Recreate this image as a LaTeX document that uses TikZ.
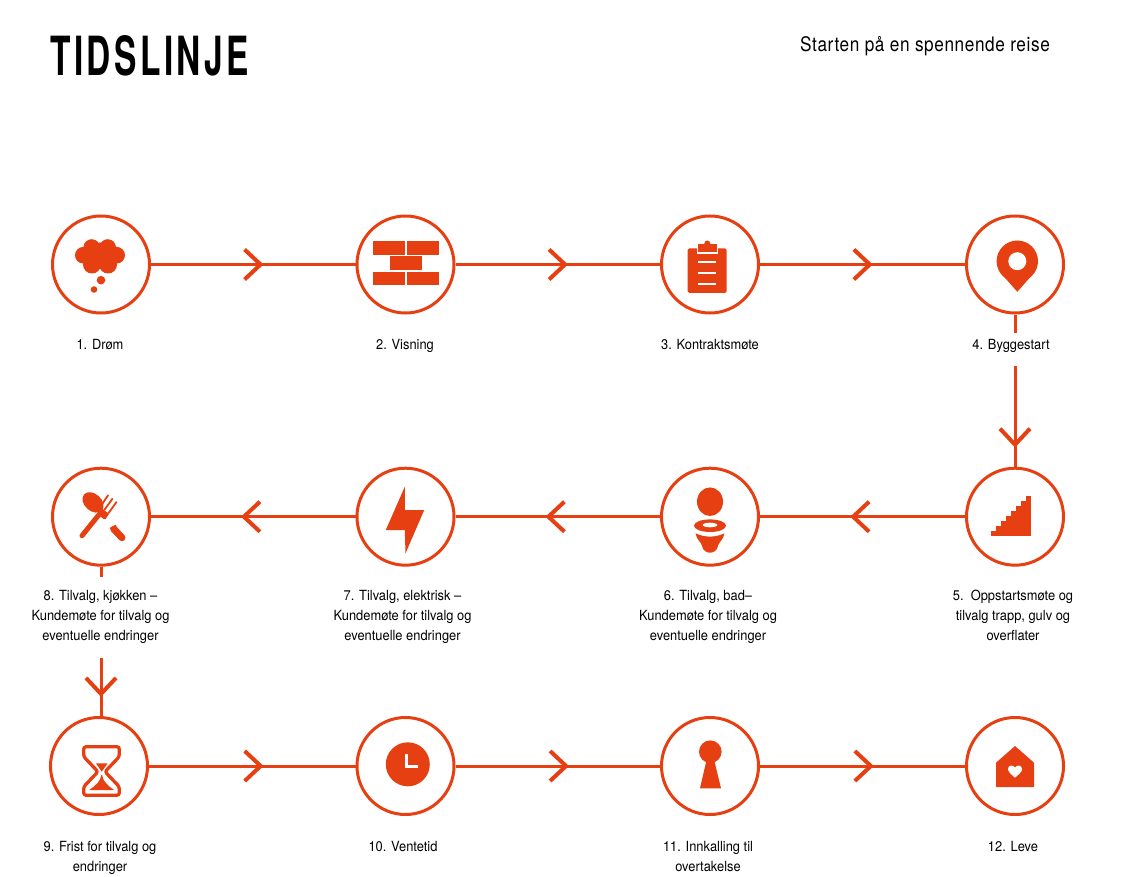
\documentclass[tikz,border=0pt]{standalone}
\usepackage{fontspec}
\usetikzlibrary{arrows.meta,decorations.markings}
\setmainfont{TeX Gyre Heros}
\newfontfamily\tekstfont[FakeStretch=.92]{TeX Gyre Heros}
\newfontfamily\titlefont[FakeStretch=.62,LetterSpace=6.4]{TeX Gyre Heros}
\newfontfamily\undertitlefont[FakeStretch=.86,LetterSpace=3]{TeX Gyre Heros}
\definecolor{oransje}{HTML}{E63F11}
\tikzset{
	station/.style={circle, draw=oransje, line width=3pt, minimum size=97pt, inner sep=0pt},
	linje/.style={draw=oransje, line width=3pt},
	flyt/.style={linje, decoration={markings, mark=at position #1 with {\arrow[oransje]{Straight Barb[length=16pt,width=30pt,line width=4pt]}}}, postaction={decorate}},
	tekst/.style={font=\tekstfont\fontsize{14}{20}\selectfont, align=center, anchor=north, inner xsep=0pt, inner ysep=6pt},
}
\begin{document}
\begin{tikzpicture}[x=1pt, y=-1pt]
	\useasboundingbox (0,0) rectangle (1140,877);

	\node [anchor=base west, inner sep=0pt, font=\titlefont\bfseries\fontsize{54}{54}\selectfont] (tittel) at (50,76) {TIDSLINJE};
	\node [anchor=base west, inner sep=0pt, font=\undertitlefont\fontsize{20}{20}\selectfont] (undertittel) at (800,52) {Starten på en spennende reise};

	% circles
	\node [station] (drom) at (101,264.5) {};
	\node [station] (visning) at (405.5,264.5) {};
	\node [station] (kontrakt) at (710,264.5) {};
	\node [station] (byggestart) at (1015,264.5) {};
	\node [station] (oppstart) at (1015,516.7) {};
	\node [station] (bad) at (710,516.7) {};
	\node [station] (elektrisk) at (405.5,516.7) {};
	\node [station] (kjokken) at (101,516.7) {};
	\node [station] (frist) at (99,766) {};
	\node [station] (ventetid) at (405.5,766) {};
	\node [station] (innkalling) at (710,766) {};
	\node [station] (leve) at (1015,766) {};

	% labels
	\node [tekst] (tekst1) at (100,333) {1. Drøm};
	\node [tekst] (tekst2) at (405,333) {2. Visning};
	\node [tekst] (tekst3) at (710,333) {3. Kontraktsmøte};
	\node [tekst] (tekst4) at (1011,333) {4. Byggestart};
	\node [tekst] (tekst5) at (1013,584) {5.\ \ Oppstartsmøte og\\tilvalg trapp, gulv og\\overflater};
	\node [tekst] (tekst6) at (708,584) {6. Tilvalg, bad–\\Kundemøte for tilvalg og\\eventuelle endringer};
	\node [tekst] (tekst7) at (402.5,584) {7. Tilvalg, elektrisk –\\Kundemøte for tilvalg og\\eventuelle endringer};
	\node [tekst] (tekst8) at (100.5,584) {8. Tilvalg, kjøkken –\\Kundemøte for tilvalg og\\eventuelle endringer};
	\node [tekst] (tekst9) at (100,835) {9. Frist for tilvalg og\\endringer};
	\node [tekst] (tekst10) at (403,835) {10. Ventetid};
	\node [tekst] (tekst11) at (708,835) {11. Innkalling til\\overtakelse};
	\node [tekst] (tekst12) at (1013,835) {12. Leve};

	% connectors
	\draw [flyt=.55] (drom) -- (visning);
	\draw [flyt=.55] (visning) -- (kontrakt);
	\draw [flyt=.55] (kontrakt) -- (byggestart);
	\draw [linje] (byggestart) -- (byggestart |- tekst4.north);
	\draw [flyt=.81] (byggestart |- 0,366) -- (oppstart);
	\draw [flyt=.56] (oppstart) -- (bad);
	\draw [flyt=.56] (bad) -- (elektrisk);
	\draw [flyt=.56] (elektrisk) -- (kjokken);
	\draw [linje] (kjokken) -- (kjokken |- 0,577);
	\draw [flyt=.67] (kjokken |- 0,658) -- (kjokken |- frist.north);
	\draw [flyt=.555] (frist) -- (ventetid);
	\draw [flyt=.555] (ventetid) -- (innkalling);
	\draw [flyt=.555] (innkalling) -- (leve);

	% icons
	\begin{scope}[shift={(drom.center)}, oransje]
		\fill (-9.3,-17) circle[radius=8.3] (6.7,-17) circle[radius=8.3] (-17.7,-9.3) circle[radius=8.3] (15.7,-9.3) circle[radius=8.3];
		\fill (-9,0) circle[radius=9] (7,0) circle[radius=9] (-1,-9) circle[radius=13];
		\fill (0,15.7) circle[radius=4.3] (-7,25) circle[radius=3.3];
	\end{scope}
	\begin{scope}[shift={(visning.center)}, oransje]
		\fill (-33,-23.3) rectangle (-.7,-9.3);
		\fill (1.3,-23.3) rectangle (33.3,-9.3);
		\fill (-16,-8.3) rectangle (16,5.3);
		\fill (-33,7.3) rectangle (-.7,21);
		\fill (1.3,7.3) rectangle (33.3,21);
	\end{scope}
	\begin{scope}[shift={(kontrakt.center)}, oransje]
		\fill [rounded corners=1.5pt] (-22.3,-16) rectangle (16.7,28.3);
		\fill [white] (-13,-18) rectangle (8,-10.5);
		\fill (-2.7,-21) circle[radius=3];
		\fill (-11.7,-20) rectangle (6.7,-12.7);
		\foreach \y in {-2.7,8.3,19.3}
			\draw [white, line width=1.7pt] (-11.7,\y) -- (5.7,\y);
	\end{scope}
	\begin{scope}[shift={(byggestart.center)}, oransje]
		\fill (2.3,-3.3) circle[radius=20.7];
		\fill (2.3,27.3) .. controls (-6,18) and (-13,10) .. (-15.7,6) -- (20.3,6) .. controls (17.6,10) and (10.6,18) .. cycle;
		\fill [white] (2.3,-3.3) circle[radius=9];
	\end{scope}
	\begin{scope}[shift={(oppstart.center)}, oransje]
		\foreach \i in {1,...,8}
			\fill (-24.3+\i*5.04-5.04,19.3) rectangle ++(5.3,-\i*5.04);
	\end{scope}
	\begin{scope}[shift={(bad.center)}, oransje]
		\fill (0,-15) ellipse[x radius=13, y radius=14.3];
		\fill (0,9) ellipse[x radius=16, y radius=6.3];
		\fill [white] (0,8.3) ellipse[x radius=7.3, y radius=2.3];
		\fill (-14.3,16.7) .. controls (-5,21) and (5,21) .. (14.3,16.7) .. controls (13,24) and (9,25) .. (8,29) .. controls (7.5,34) and (3,36) .. (0,36) .. controls (-3,36) and (-7.5,34) .. (-8,29) .. controls (-9,25) and (-13,24) .. cycle;
	\end{scope}
	\begin{scope}[shift={(elektrisk.center)}, oransje]
		\fill (-.7,-30) -- (-19.7,13.3) -- (-.7,13.3) -- (0,36.7) -- (18.7,-6.7) -- (-.7,-6.7) -- cycle;
	\end{scope}
	\begin{scope}[shift={(kjokken.center)}, oransje]
		\fill [shift={(-8,-14.3)}, rotate=-42] (0,0) ellipse[x radius=12, y radius=8.5];
		\draw [line width=5pt, line cap=round] (-19,19) -- (-1,-3.3);
		\fill (-1.7,-10.5) -- (8,-2.8) -- (4.5,2.5) -- (2.2,2) -- (-2.5,-2) -- cycle;
		\draw [line width=1.8pt] (-.7,-10) -- (7.3,-21.7) (3.3,-6.7) -- (11.7,-18.3) (7.3,-3.3) -- (15.7,-15);
		\draw [line width=7pt, line cap=round] (21,21) -- (13.5,13);
		\fill (8.7,11.2) -- (14.5,8) -- (17,12) -- (11,16) -- cycle;
	\end{scope}
	\begin{scope}[shift={(frist.center)}, oransje]
		\draw [line width=3.3pt, rounded corners=2.5pt] (-15.3,-19.3) -- (20.3,-19.3) -- (20.3,-9.3) -- (6,5.7) -- (20.3,20.7) -- (20.3,29.3) -- (-15.3,29.3) -- (-15.3,20.7) -- (-1,5.7) -- (-15.3,-9.3) -- cycle;
		\fill (-3,-2.7) -- (8.7,-2.7) -- (2.7,5.7) -- cycle;
		\fill (-9.7,24) .. controls (-4,20) and (2,15) .. (2.3,9) -- (3.1,9) .. controls (3.4,15) and (9.4,20) .. (15,24) -- cycle;
	\end{scope}
	\begin{scope}[shift={(ventetid.center)}, oransje]
		\fill (2.3,-1.7) circle[radius=22];
		\draw [white, line width=2.7pt] (1,-11.7) -- (1,.7) -- (12.7,.7);
	\end{scope}
	\begin{scope}[shift={(innkalling.center)}, oransje]
		\fill (.3,-14.3) circle[radius=11.3];
		\fill (-3.3,-6.7) -- (4,-6.7) -- (11,22.3) -- (-10,22.3) -- cycle;
	\end{scope}
	\begin{scope}[shift={(leve.center)}, oransje]
		\fill (0,-20) -- (19,-3.3) -- (19,21) -- (-19,21) -- (-19,-3.3) -- cycle;
		\fill [white] (0,11.7) .. controls (-4,8) and (-7,6) .. (-7,3) .. controls (-7,-1) and (-2,-1.5) .. (0,1.5) .. controls (2,-1.5) and (7,-1) .. (7,3) .. controls (7,6) and (4,8) .. cycle;
	\end{scope}
\end{tikzpicture}
\end{document}
